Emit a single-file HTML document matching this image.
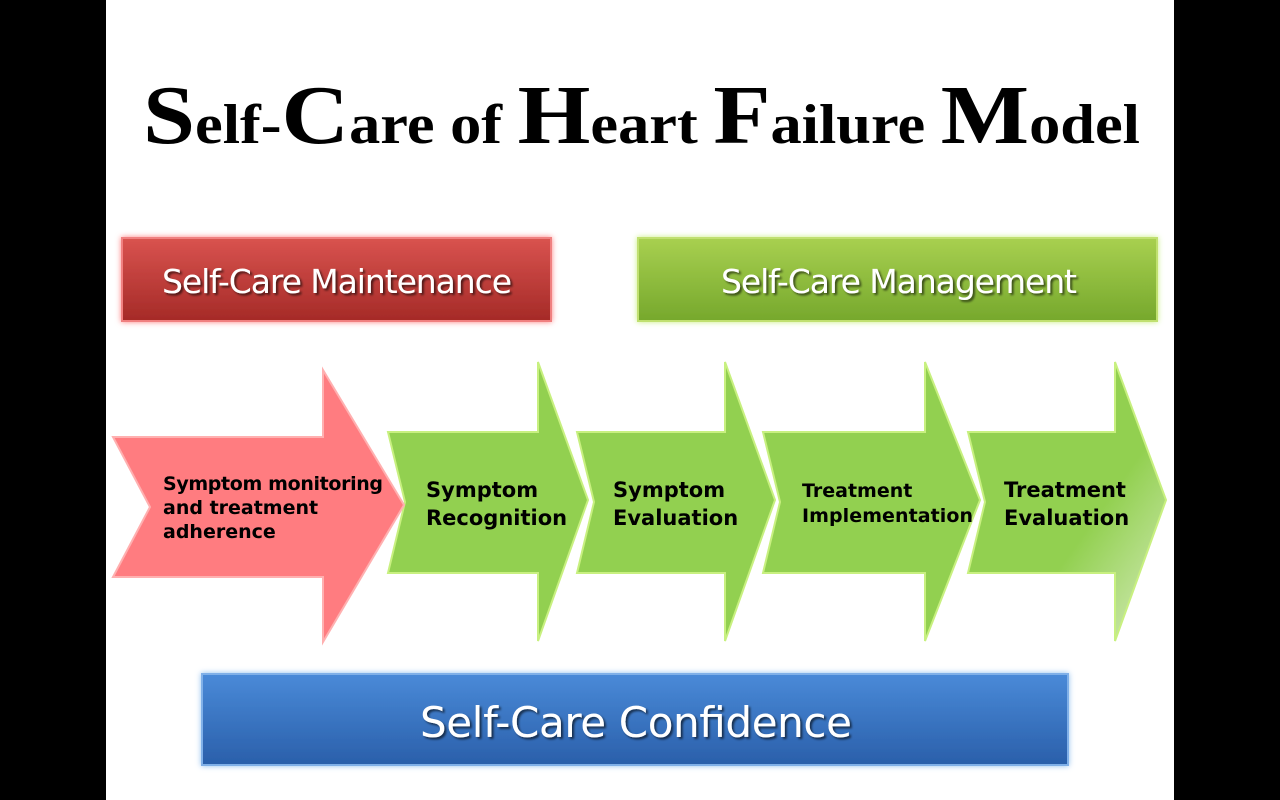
<!DOCTYPE html>
<html><head><meta charset="utf-8"><style>
html,body{margin:0;padding:0;background:#000;}
#wrap{position:relative;width:1280px;height:800px;background:#000;overflow:hidden;}
</style></head><body>
<div id="wrap">
<svg width="1280" height="800" viewBox="0 0 1280 800" xmlns="http://www.w3.org/2000/svg">
<defs>
<linearGradient id="gRed" x1="0" y1="0" x2="0" y2="1"><stop offset="0" stop-color="#d9534f"/><stop offset="1" stop-color="#a52a27"/></linearGradient>
<linearGradient id="gGreen" x1="0" y1="0" x2="0" y2="1"><stop offset="0" stop-color="#a8d050"/><stop offset="1" stop-color="#76a82c"/></linearGradient>
<linearGradient id="gBlue" x1="0" y1="0" x2="0" y2="1"><stop offset="0" stop-color="#4a8ad8"/><stop offset="1" stop-color="#2a5faa"/></linearGradient>
<linearGradient id="gLast" x1="0" y1="0" x2="1" y2="1"><stop offset="0.6" stop-color="#92d050"/><stop offset="1" stop-color="#d8ecc0"/></linearGradient>
<filter id="glowR" x="-10%" y="-20%" width="120%" height="140%"><feDropShadow dx="0" dy="0" stdDeviation="3" flood-color="#ff8080"/></filter>
<filter id="glowG" x="-10%" y="-20%" width="120%" height="140%"><feDropShadow dx="0" dy="0" stdDeviation="3" flood-color="#c8f080"/></filter>
<filter id="glowB" x="-10%" y="-20%" width="120%" height="140%"><feDropShadow dx="0" dy="0" stdDeviation="3" flood-color="#90c0f0"/></filter>
<filter id="ts"><feDropShadow dx="2" dy="2" stdDeviation="1" flood-color="#000" flood-opacity="0.6"/></filter>
</defs>
<rect x="106" y="0" width="1068" height="800" fill="#fff"/>
<text x="143" y="143" textLength="997" lengthAdjust="spacingAndGlyphs" font-family="Liberation Serif, serif" font-weight="bold" font-size="56" fill="#000"><tspan font-size="84">S</tspan>elf-<tspan font-size="84">C</tspan>are of <tspan font-size="84">H</tspan>eart <tspan font-size="84">F</tspan>ailure <tspan font-size="84">M</tspan>odel</text>

<rect x="122" y="238" width="429" height="83" fill="url(#gRed)" stroke="#f08080" stroke-width="2" filter="url(#glowR)"/>
<text x="337" y="293" text-anchor="middle" font-family="DejaVu Sans, sans-serif" font-size="33" fill="#fff" filter="url(#ts)" textLength="350">Self-Care Maintenance</text>

<rect x="638" y="238" width="519" height="83" fill="url(#gGreen)" stroke="#c0e070" stroke-width="2" filter="url(#glowG)"/>
<text x="899" y="293" text-anchor="middle" font-family="DejaVu Sans, sans-serif" font-size="33" fill="#fff" filter="url(#ts)" textLength="356">Self-Care Management</text>

<polygon points="968,432 1115,432 1115,362 1166,500 1115,641 1115,573 968,573 985,502" fill="url(#gLast)" stroke="#c8f080" stroke-width="2"/>
<polygon points="763,432 925,432 925,362 980,500 925,641 925,573 763,573 780,502" fill="#92d050" stroke="#c8f080" stroke-width="2"/>
<polygon points="577,432 725,432 725,362 775,500 725,641 725,573 577,573 594,502" fill="#92d050" stroke="#c8f080" stroke-width="2"/>
<polygon points="388,432 538,432 538,362 588,500 538,641 538,573 388,573 405,502" fill="#92d050" stroke="#c8f080" stroke-width="2"/>
<polygon points="113,437 323,437 323,370 404,505 323,642 323,577 113,577 150,507" fill="#ff7c80" stroke="#ffb0b0" stroke-width="2"/>

<g font-family="DejaVu Sans, sans-serif" font-weight="bold" fill="#000">
<text x="163" y="490" font-size="19"><tspan x="163" textLength="220">Symptom monitoring</tspan><tspan x="163" dy="24">and treatment</tspan><tspan x="163" dy="24">adherence</tspan></text>
<text x="426" y="497" font-size="21"><tspan x="426">Symptom</tspan><tspan x="426" dy="28">Recognition</tspan></text>
<text x="613" y="497" font-size="21"><tspan x="613">Symptom</tspan><tspan x="613" dy="28">Evaluation</tspan></text>
<text x="802" y="497" font-size="19"><tspan x="802">Treatment</tspan><tspan x="802" dy="25" textLength="171">Implementation</tspan></text>
<text x="1004" y="497" font-size="21"><tspan x="1004">Treatment</tspan><tspan x="1004" dy="28">Evaluation</tspan></text>
</g>

<rect x="202" y="674" width="866" height="91" fill="url(#gBlue)" stroke="#80b0e8" stroke-width="2" filter="url(#glowB)"/>
<text x="636" y="737" text-anchor="middle" font-family="DejaVu Sans, sans-serif" font-size="42" fill="#fff" filter="url(#ts)" textLength="432">Self-Care Confidence</text>
</svg>
</div>
</body></html>
